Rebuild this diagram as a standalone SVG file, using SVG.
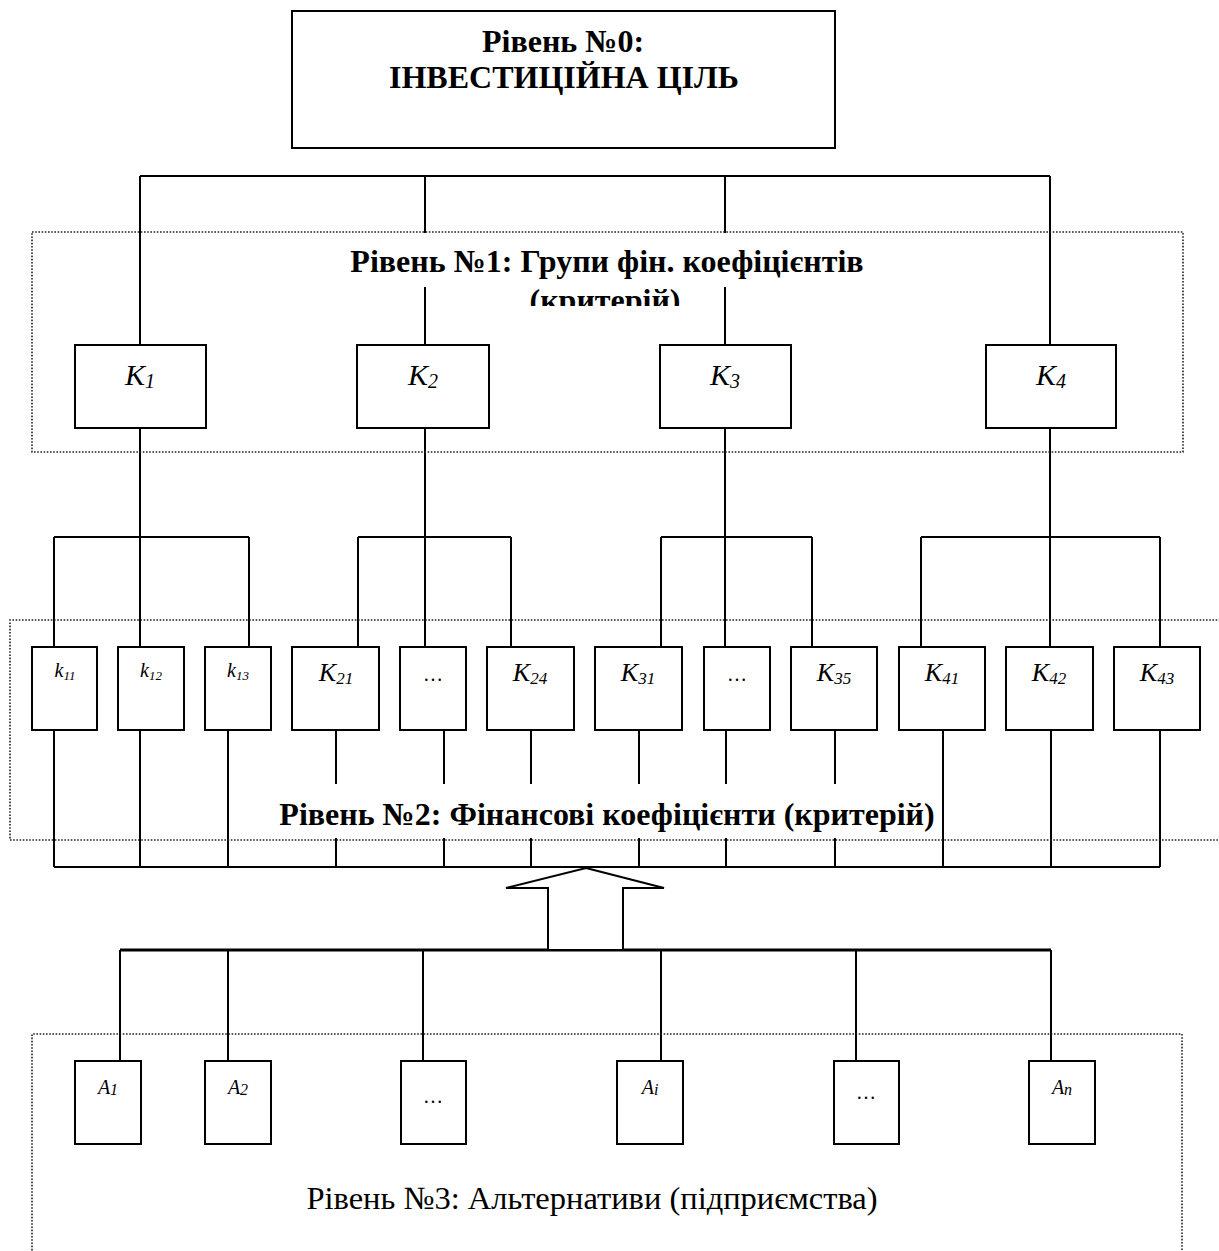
<svg xmlns="http://www.w3.org/2000/svg" width="1219" height="1251" viewBox="0 0 1219 1251">
<style>
.ln{stroke:#000;stroke-width:2;fill:none}
.thick{stroke:#000;stroke-width:3.2;fill:none}
.box{fill:#fff;stroke:#000;stroke-width:2}
.dot{fill:none;stroke:#222;stroke-width:1.6;stroke-dasharray:1.6 1.6}
.bold{font-family:"Liberation Serif","Times New Roman",serif;font-weight:bold;font-size:32px;fill:#000}
.reg{font-family:"Liberation Serif","Times New Roman",serif;font-size:32.5px;fill:#000}
.it{font-family:"Liberation Serif","Times New Roman",serif;font-style:italic;fill:#000}
.dots{font-family:"Liberation Serif","Times New Roman",serif;font-size:20px;fill:#000}
</style>
<defs>
<clipPath id="clip1"><rect x="330" y="232" width="560" height="74"/></clipPath>
</defs>
<rect width="1219" height="1251" fill="#fff"/>

<g id="connectors">
<path class="ln" d="M140 176H1050M140 176V345M425 176V345M725 176V345M1050 176V345"/>
<path class="ln" d="M140 428V647M425 428V647M725 428V647M1050 428V647"/>
<path class="ln" d="M54 537H249M358 537H511M661 537H812M921 537H1160"/>
<path class="ln" d="M54 537V647M249 537V647M358 537V647M511 537V647M661 537V647M812 537V647M921 537V647M1160 537V647"/>
<path class="ln" d="M54 730V867M140 730V867M228 730V867M336 730V867M444 730V867M531 730V867M639 730V867M726 730V867M835 730V867M943 730V867M1051 730V867M1160 730V867"/>
<path class="ln" d="M54 867H1160"/>
<path class="thick" d="M120 950H1051"/>
<path class="ln" d="M120 950V1061M228 950V1061M423 950V1061M661 950V1061M856 950V1061M1051 950V1061"/>
<polygon id="arrow" points="586,868 664,888 623,888 623,950 548,950 548,888 506,888" fill="#fff" stroke="#000" stroke-width="2" stroke-linejoin="miter"/>
</g>

<g id="level0">
<rect class="box" x="292" y="11" width="543" height="137"/>
<text class="bold" x="563" y="52" text-anchor="middle">Рівень №0:</text>
<text class="bold" x="564" y="88" text-anchor="middle">ІНВЕСТИЦІЙНА ЦІЛЬ</text>
</g>

<g id="level1">
<rect class="dot" x="32" y="232" width="1151" height="220"/>
<rect x="330" y="233" width="560" height="54" fill="#fff"/>
<g clip-path="url(#clip1)">
<text class="bold" x="607" y="272" text-anchor="middle">Рівень №1: Групи фін. коефіцієнтів</text>
<text class="bold" x="605" y="311" text-anchor="middle">(критерій)</text>
</g>
</g>
<g id="K1"><rect class="box" x="75" y="345" width="131" height="83"/><text class="it" x="140" y="385" font-size="30" text-anchor="middle">K<tspan font-size="20" dy="3">1</tspan></text></g>
<g id="K2"><rect class="box" x="357" y="345" width="132" height="83"/><text class="it" x="423" y="385" font-size="30" text-anchor="middle">K<tspan font-size="20" dy="3">2</tspan></text></g>
<g id="K3"><rect class="box" x="660" y="345" width="131" height="83"/><text class="it" x="725" y="385" font-size="30" text-anchor="middle">K<tspan font-size="20" dy="3">3</tspan></text></g>
<g id="K4"><rect class="box" x="986" y="345" width="130" height="83"/><text class="it" x="1051" y="385" font-size="30" text-anchor="middle">K<tspan font-size="20" dy="3">4</tspan></text></g>

<g id="level2">
<path class="dot" d="M1230 620H10V840H1230"/>
<rect x="272" y="784" width="668" height="54" fill="#fff"/>
<text class="bold" x="607" y="825" text-anchor="middle">Рівень №2: Фінансові коефіцієнти (критерій)</text>
</g>
<g id="k11"><rect class="box" x="32" y="647" width="65" height="83"/><text class="it" x="65" y="677" font-size="20" text-anchor="middle">k<tspan font-size="13" dy="3">11</tspan></text></g>
<g id="k12"><rect class="box" x="118" y="647" width="66" height="83"/><text class="it" x="151" y="677" font-size="20" text-anchor="middle">k<tspan font-size="13" dy="3">12</tspan></text></g>
<g id="k13"><rect class="box" x="205" y="647" width="66" height="83"/><text class="it" x="238" y="677" font-size="20" text-anchor="middle">k<tspan font-size="13" dy="3">13</tspan></text></g>
<g id="K21"><rect class="box" x="292" y="647" width="87" height="83"/><text class="it" x="336" y="681" font-size="26" text-anchor="middle">K<tspan font-size="17" dy="3">21</tspan></text></g>
<g id="K2dots"><rect class="box" x="400" y="647" width="66" height="83"/><text class="dots" x="433" y="681" text-anchor="middle">…</text></g>
<g id="K24"><rect class="box" x="487" y="647" width="87" height="83"/><text class="it" x="530" y="681" font-size="26" text-anchor="middle">K<tspan font-size="17" dy="3">24</tspan></text></g>
<g id="K31"><rect class="box" x="595" y="647" width="87" height="83"/><text class="it" x="638" y="681" font-size="26" text-anchor="middle">K<tspan font-size="17" dy="3">31</tspan></text></g>
<g id="K3dots"><rect class="box" x="704" y="647" width="66" height="83"/><text class="dots" x="737" y="681" text-anchor="middle">…</text></g>
<g id="K35"><rect class="box" x="791" y="647" width="86" height="83"/><text class="it" x="834" y="681" font-size="26" text-anchor="middle">K<tspan font-size="17" dy="3">35</tspan></text></g>
<g id="K41"><rect class="box" x="899" y="647" width="86" height="83"/><text class="it" x="942" y="681" font-size="26" text-anchor="middle">K<tspan font-size="17" dy="3">41</tspan></text></g>
<g id="K42"><rect class="box" x="1006" y="647" width="87" height="83"/><text class="it" x="1049" y="681" font-size="26" text-anchor="middle">K<tspan font-size="17" dy="3">42</tspan></text></g>
<g id="K43"><rect class="box" x="1114" y="647" width="86" height="83"/><text class="it" x="1157" y="681" font-size="26" text-anchor="middle">K<tspan font-size="17" dy="3">43</tspan></text></g>

<g id="level3">
<path class="dot" d="M32 1260V1034H1182V1260"/>
<text class="reg" x="592" y="1209" text-anchor="middle">Рівень №3: Альтернативи (підприємства)</text>
</g>
<g id="A1"><rect class="box" x="75" y="1061" width="66" height="83"/><text class="it" x="108" y="1094" font-size="20" text-anchor="middle">A<tspan font-size="16" dy="1">1</tspan></text></g>
<g id="A2"><rect class="box" x="205" y="1061" width="66" height="83"/><text class="it" x="238" y="1094" font-size="20" text-anchor="middle">A<tspan font-size="16" dy="1">2</tspan></text></g>
<g id="Adots1"><rect class="box" x="401" y="1061" width="65" height="83"/><text class="dots" x="433" y="1103" text-anchor="middle">…</text></g>
<g id="Ai"><rect class="box" x="617" y="1061" width="66" height="83"/><text class="it" x="650" y="1094" font-size="20" text-anchor="middle">A<tspan font-size="16" dy="1">i</tspan></text></g>
<g id="Adots2"><rect class="box" x="834" y="1061" width="65" height="83"/><text class="dots" x="866" y="1099" text-anchor="middle">…</text></g>
<g id="An"><rect class="box" x="1029" y="1061" width="66" height="83"/><text class="it" x="1062" y="1094" font-size="20" text-anchor="middle">A<tspan font-size="16" dy="1">n</tspan></text></g>
</svg>
